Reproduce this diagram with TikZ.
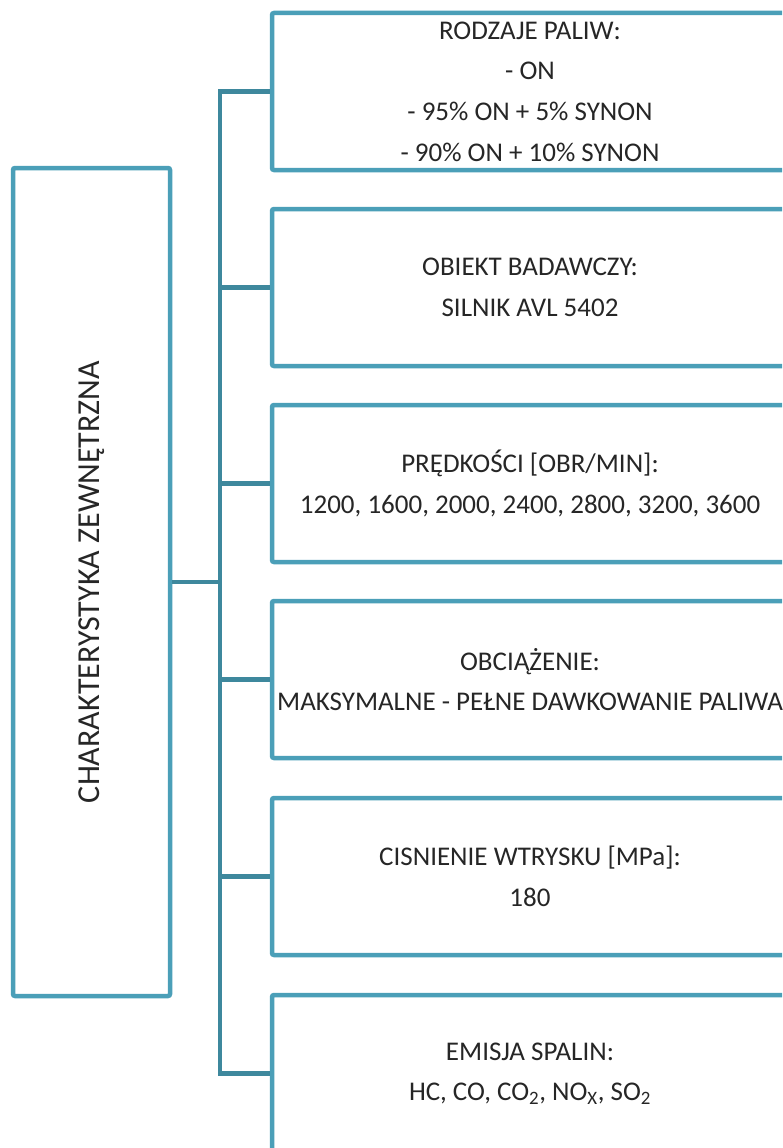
\documentclass[tikz,border=0pt]{standalone}
\usepackage{fontspec}
\setmainfont{Carlito}
\usepackage{xcolor}
\usepackage{tikz}
\usetikzlibrary{positioning,calc}
\definecolor{boxTeal}{RGB}{75,159,184}
\definecolor{linkTeal}{RGB}{62,136,157}
\definecolor{textGray}{RGB}{38,38,38}

\begin{document}
\begin{tikzpicture}[x=1pt,y=-1pt,
    frame/.style={draw=boxTeal, line width=4.5pt, rounded corners=2pt, fill=white,
        text=textGray, align=center, inner xsep=0pt,
        font=\fontsize{27}{40.7}\selectfont},
    item/.style={frame, minimum width=516pt, minimum height=157pt},
    link/.style={draw=linkTeal, line width=4.5pt}]
    \useasboundingbox (0,0) rectangle (782,1148);
    \clip (0,0) rectangle (782,1148);

    % Main box
    \node[frame, minimum width=157pt, minimum height=828pt] (main) at (91.5,582) {};
    \node[rotate=90, text=textGray, font=\fontsize{32}{38}\selectfont] (mainlabel) at (main.center)
        {CHARAKTERYSTYKA ZEWNĘTRZNA};

    % Parameter boxes
    \node[item] (box1) at (530,91.5) {RODZAJE PALIW:\\- ON\\- 95\% ON + 5\% SYNON\\- 90\% ON + 10\% SYNON};
    \node[item] (box2) at (530,287.5) {OBIEKT BADAWCZY:\\SILNIK AVL 5402};
    \node[item] (box3) at (530,483.5) {PRĘDKOŚCI [OBR/MIN]:\\1200, 1600, 2000, 2400, 2800, 3200, 3600};
    \node[item] (box4) at (530,679.5) {OBCIĄŻENIE:\\MAKSYMALNE - PEŁNE DAWKOWANIE PALIWA};
    \node[item] (box5) at (530,876.5) {CISNIENIE WTRYSKU [MPa]:\\180};
    \node[item] (box6) at (530,1073.5) {EMISJA SPALIN:\\HC, CO, CO\textsubscript{2}, NO\textsubscript{X}, SO\textsubscript{2}};

    % Connectors
    \coordinate (hub) at (220,582);
    \draw[link] (main.east) -- (hub);
    \foreach \i in {1,...,6} {
        \draw[link] (hub) |- (box\i.west);
    }
\end{tikzpicture}
\end{document}
